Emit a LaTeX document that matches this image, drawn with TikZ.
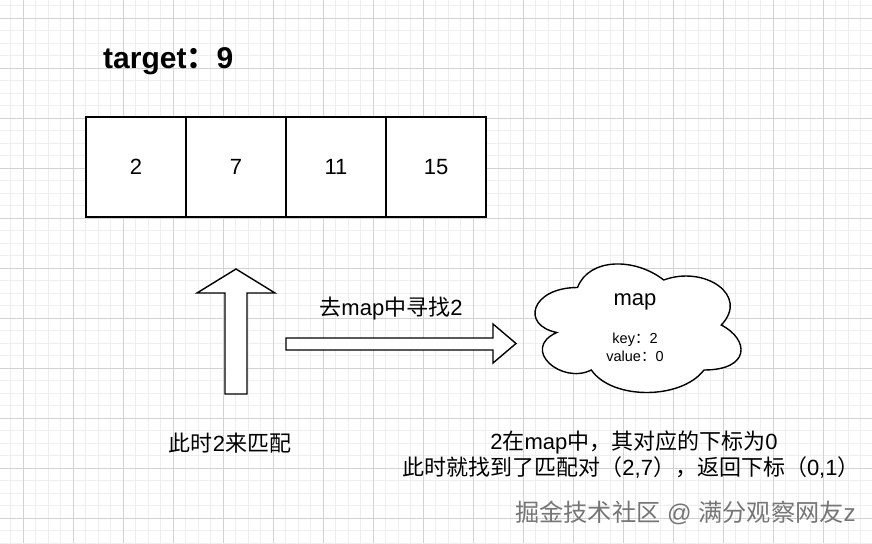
\documentclass[tikz,border=0pt]{standalone}
\usepackage{fontspec}
\setmainfont{Liberation Sans}
\newfontfamily\cjk{Noto Sans CJK SC}
\newcommand{\zh}[1]{{\cjk #1}}
\definecolor{gridminor}{RGB}{238,238,238}
\definecolor{gridmajor}{RGB}{210,210,210}
\definecolor{wmgray}{RGB}{118,118,118}
\begin{document}
\begin{tikzpicture}[x=1pt,y=-1pt,
  shapeline/.style={draw=black,line width=1.4pt,fill=white,line join=miter},
  cell/.style={draw=black,line width=1.4pt,minimum width=100pt,minimum height=100pt,inner sep=0pt,
    font=\fontsize{22}{26}\selectfont},
  lbl/.style={inner sep=0pt,anchor=base,font=\fontsize{22}{26}\selectfont},
  small/.style={inner sep=0pt,anchor=base,font=\fontsize{14.5}{18}\selectfont},
  title/.style={inner sep=0pt,anchor=base west,font=\fontsize{30}{34}\selectfont\bfseries},
  wm/.style={inner sep=0pt,anchor=base,text=wmgray,font=\fontsize{24.2}{28}\selectfont}]
\useasboundingbox (0,0) rectangle (872,543);
\fill[white] (0,0) rectangle (872,543);
% grid
\foreach \i in {0,...,70}{
  \draw[gridminor,line width=0.6pt] ({10.5+12.5*\i},0) -- ({10.5+12.5*\i},543);
}
\foreach \i in {0,...,44}{
  \draw[gridminor,line width=0.6pt] (0,{5.5+12.5*\i}) -- (872,{5.5+12.5*\i});
}
\foreach \i in {0,...,17}{
  \draw[gridmajor,line width=0.6pt] ({23+50*\i},0) -- ({23+50*\i},543);
}
\foreach \i in {0,...,10}{
  \draw[gridmajor,line width=0.6pt] (0,{18+50*\i}) -- (872,{18+50*\i});
}
% title
\node[title] (title) at (103,68) {target\zh{：}9};
% array cells
\node[cell,fill=white] (c1) at (136,167) {2};
\node[cell,fill=white] (c2) at (236,167) {7};
\node[cell,fill=white] (c3) at (336,167) {11};
\node[cell,fill=white] (c4) at (436,167) {15};
% up arrow
\draw[shapeline] (225,394) -- (225,293) -- (197,293) -- (236,269) -- (275,293) -- (247,293) -- (247,394) -- cycle;
% right arrow
\draw[shapeline] (286,338) -- (493,338) -- (493,324) -- (516,343.5) -- (493,363) -- (493,350) -- (286,350) -- cycle;
\node[lbl] (find) at (391,315) {\zh{去}map\zh{中寻找}2};
% cloud
\draw[shapeline] (577.5,287.5)
  .. controls (531.5,287.5) and (520,325) .. (556.8,332.5)
  .. controls (520,349) and (561.4,385) .. (591.3,370)
  .. controls (612,400) and (681,400) .. (704,370)
  .. controls (750,370) and (750,340) .. (721.25,325)
  .. controls (750,295) and (704,265) .. (663.75,280)
  .. controls (635,257.5) and (589,257.5) .. (577.5,287.5) -- cycle;
\node[lbl] (map) at (635,305) {map};
\node[small] (key) at (635,343) {key\zh{：}2};
\node[small] (val) at (635,361) {value\zh{：}0};
% bottom texts
\node[lbl] (match) at (230,451) {\zh{此时}2\zh{来匹配}};
\node[lbl] (res1) at (634,449) {2\zh{在}map\zh{中，其对应的下标为}0};
\node[lbl] (res2) at (631,475) {\zh{此时就找到了匹配对（}2,7\zh{），返回下标（}0,1\zh{）}};
% watermark
\node[wm] (wm) at (685.5,521) {\zh{掘金技术社区} @ \zh{满分观察网友}z};
\end{tikzpicture}
\end{document}
